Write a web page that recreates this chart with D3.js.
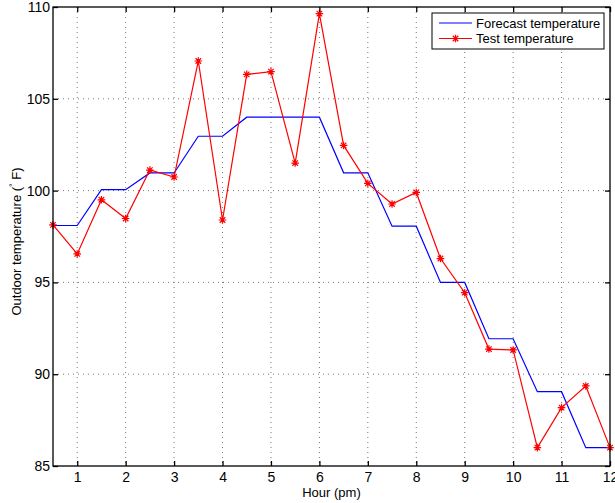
<!DOCTYPE html>
<html>
<head>
<meta charset="utf-8">
<script src="https://cdn.jsdelivr.net/npm/d3@7"></script>
<style>
body { margin:0; background:#fff; }
text { font-family: "Liberation Sans", Arial, sans-serif; }
</style>
</head>
<body>
<svg id="graph"></svg>
<script>
// hours (pm)
var hours = [0.5,1,1.5,2,2.5,3,3.5,4,4.5,5,5.5,6,6.5,7,7.5,8,8.5,9,9.5,10,10.5,11,11.5,12]
var forecast = [98.1,98.1,100.05,100.05,100.96,100.96,102.96,102.96,104,104,104,104,
                100.97,100.97,98.06,98.06,95.0,95.0,91.93,91.93,89.05,89.05,86.0,86.0]
var test = [98.13,96.55,99.5,98.48,101.12,100.74,107.06,98.4,106.33,106.48,101.5,109.64,
            102.46,100.39,99.27,99.9,96.3,94.44,91.37,91.32,86.0,88.18,89.36,86.0]
var xTicks = [1,2,3,4,5,6,7,8,9,10,11,12]
var yTicks = [85,90,95,100,105,110]
var seriesNames = ["Forecast temperature","Test temperature"]

var screen = {width:615, height:503}
var margins = {left:53, right:5, top:7, bottom:37}
var graph = {
    width: screen.width - margins.left - margins.right,
    height: screen.height - margins.top - margins.bottom
}

var svg = d3.select("#graph")
    .attr("width", screen.width)
    .attr("height", screen.height)

var xScale = d3.scaleLinear().domain([0.5,12]).range([0,graph.width])
var yScale = d3.scaleLinear().domain([85,110]).range([graph.height,0])

var makeTranslateString = function(x,y) {
    return "translate("+x+","+y+")"
}

var plot = svg.append("g")
    .attr("transform", makeTranslateString(margins.left, margins.top))

// dotted grid
var grid = plot.append("g").attr("class","grid")
grid.selectAll("line.vx")
    .data(xTicks.filter(function(t){ return t < 12 }))
    .enter().append("line")
    .attr("x1", function(d){ return xScale(d) })
    .attr("x2", function(d){ return xScale(d) })
    .attr("y1", 0).attr("y2", graph.height)
    .attr("stroke", "#777").attr("stroke-width", 1)
    .attr("stroke-dasharray", "1,4")
grid.selectAll("line.hy")
    .data(yTicks.filter(function(t){ return t > 85 && t < 110 }))
    .enter().append("line")
    .attr("y1", function(d){ return yScale(d) })
    .attr("y2", function(d){ return yScale(d) })
    .attr("x1", 0).attr("x2", graph.width)
    .attr("stroke", "#777").attr("stroke-width", 1)
    .attr("stroke-dasharray", "1,4")

// lines
var line = d3.line()
    .x(function(d,i){ return xScale(hours[i]) })
    .y(function(d){ return yScale(d) })

plot.append("path")
    .datum(forecast)
    .attr("fill","none")
    .attr("stroke","#0000ff")
    .attr("stroke-width",1.2)
    .attr("d", line)

plot.append("path")
    .datum(test)
    .attr("fill","none")
    .attr("stroke","#ff0000")
    .attr("stroke-width",1.2)
    .attr("d", line)

var star = function(r) {
    var a = r*0.72
    return "M"+(-r)+",0L"+r+",0M0,"+(-r)+"L0,"+r+
           "M"+(-a)+","+(-a)+"L"+a+","+a+"M"+(-a)+","+a+"L"+a+","+(-a)
}

plot.selectAll("path.marker")
    .data(test)
    .enter().append("path")
    .attr("class","marker")
    .attr("transform", function(d,i){ return makeTranslateString(xScale(hours[i]), yScale(d)) })
    .attr("d", star(3.8))
    .attr("stroke","#ff0000")
    .attr("stroke-width",1.2)
    .attr("fill","none")

// axes box and inside ticks
var axes = plot.append("g")
axes.append("rect")
    .attr("x",0).attr("y",0)
    .attr("width",graph.width).attr("height",graph.height)
    .attr("fill","none").attr("stroke","#000").attr("stroke-width",1.3)

var xAxis = d3.axisBottom(xScale).tickValues(xTicks).tickSizeInner(-5).tickSizeOuter(0).tickPadding(6)
var xAxisTop = d3.axisTop(xScale).tickValues(xTicks).tickSizeInner(-5).tickSizeOuter(0).tickFormat("")
var yAxis = d3.axisLeft(yScale).tickValues(yTicks).tickSizeInner(-5).tickSizeOuter(0).tickPadding(3)
var yAxisRight = d3.axisRight(yScale).tickValues(yTicks).tickSizeInner(-5).tickSizeOuter(0).tickFormat("")

var styleAxis = function(g) {
    g.select(".domain").remove()
    g.selectAll(".tick line").attr("stroke","#000").attr("stroke-width",1.3)
    g.selectAll("text").attr("fill","#000")
        .style("font-family","Liberation Sans, Arial, sans-serif")
        .style("font-size","14px")
}

axes.append("g").attr("transform", makeTranslateString(0, graph.height)).call(xAxis).call(styleAxis)
axes.append("g").call(xAxisTop).call(styleAxis)
axes.append("g").call(yAxis).call(styleAxis)
axes.append("g").attr("transform", makeTranslateString(graph.width, 0)).call(yAxisRight).call(styleAxis)

// labels
var labels = svg.append("g")
labels.append("text")
    .text("Hour (pm)")
    .attr("text-anchor","middle")
    .attr("x", margins.left + graph.width/2)
    .attr("y", 497)
    .style("font-size","13px")

var ylab = labels.append("text")
    .attr("text-anchor","middle")
    .attr("transform","translate(21,"+(margins.top+graph.height/2+5)+") rotate(-90)")
    .style("font-size","13px")
ylab.append("tspan").text("Outdoor temperature (")
ylab.append("tspan").text("\u00b0").attr("dy",-5).style("font-size","9px")
ylab.append("tspan").text(" F)").attr("dy",5)

// legend
var legend = svg.append("g")
    .attr("transform", makeTranslateString(432, 13))
legend.append("rect")
    .attr("width",172).attr("height",36)
    .attr("fill","#fff").attr("stroke","#000").attr("stroke-width",1)
var legendColors = ["#0000ff","#ff0000"]
seriesNames.forEach(function(name,i) {
    var yy = 10 + i*15.5
    legend.append("line")
        .attr("x1",7).attr("x2",40)
        .attr("y1",yy).attr("y2",yy)
        .attr("stroke",legendColors[i]).attr("stroke-width",1.2)
    if (i == 1) {
        legend.append("path")
            .attr("transform", makeTranslateString(23.5, yy))
            .attr("d", star(3.8))
            .attr("stroke","#ff0000").attr("stroke-width",1.2).attr("fill","none")
    }
    legend.append("text")
        .text(name)
        .attr("x",44).attr("y",yy+4.5)
        .style("font-size","13px")
})
</script>
</body>
</html>
